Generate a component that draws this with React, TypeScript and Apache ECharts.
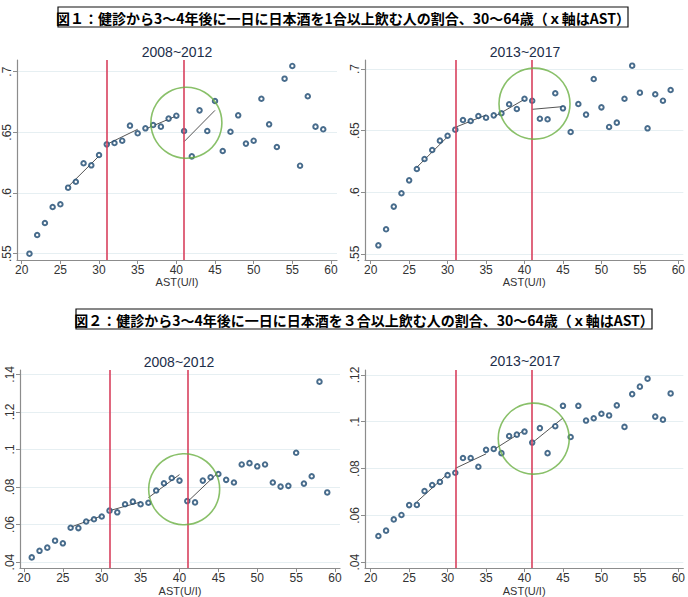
import React, { useEffect, useRef } from "react";
import * as echarts from "echarts";

// AST (U/I) bins on the x axis
const ast = [
  21, 22, 23, 24, 25, 26, 27, 28, 29, 30, 31, 32, 33, 34, 35, 36, 37, 38, 39, 40,
  41, 42, 43, 44, 45, 46, 47, 48, 49, 50, 51, 52, 53, 54, 55, 56, 57, 58, 59,
];

// 図1: 1合以上
const sake1Early = [
  0.55, 0.5654, 0.5753, 0.5885, 0.5907, 0.6044, 0.6093, 0.6245, 0.6228, 0.6313,
  0.6401, 0.6412, 0.6431, 0.6555, 0.6492, 0.6533, 0.656, 0.6547, 0.6613, 0.6637,
  0.6511, 0.6302, 0.6681, 0.6511, 0.6758, 0.6346, 0.6505, 0.664, 0.6407, 0.6431,
  0.6777, 0.6566, 0.6379, 0.6942, 0.7047, 0.6225, 0.6797, 0.6547, 0.6525,
];
const sake1Late = [
  0.557, 0.57, 0.5884, 0.5992, 0.6097, 0.6189, 0.627, 0.6343, 0.6419, 0.6459,
  0.6508, 0.6586, 0.6578, 0.6619, 0.6605, 0.6624, 0.6641, 0.6714, 0.6676, 0.6759,
  0.6743, 0.6597, 0.6592, 0.6803, 0.6681, 0.6489, 0.6716, 0.663, 0.6919, 0.6689,
  0.653, 0.6565, 0.6759, 0.7027, 0.6808, 0.6519, 0.6795, 0.6743, 0.683,
];

// 図2: 3合以上
const sake3Early = [
  0.0425, 0.046, 0.0477, 0.0514, 0.05, 0.0583, 0.0581, 0.0616, 0.0628, 0.0643,
  0.0674, 0.0665, 0.0708, 0.0722, 0.0708, 0.0716, 0.0781, 0.082, 0.0848, 0.0834,
  0.0725, 0.0718, 0.0834, 0.0852, 0.0869, 0.0838, 0.0824, 0.092, 0.0927, 0.091,
  0.092, 0.0824, 0.0802, 0.0806, 0.0982, 0.0818, 0.0857, 0.1361, 0.0771,
];
const sake3Late = [
  0.0512, 0.0535, 0.0583, 0.0602, 0.0644, 0.0645, 0.0704, 0.073, 0.0743, 0.0772,
  0.0782, 0.0845, 0.0845, 0.0808, 0.088, 0.0884, 0.0866, 0.0939, 0.0945, 0.0958,
  0.0911, 0.0973, 0.0866, 0.0981, 0.1068, 0.0935, 0.1068, 0.1005, 0.1015, 0.1034,
  0.1027, 0.107, 0.0978, 0.1118, 0.115, 0.1184, 0.1022, 0.1009, 0.1121,
];

// fitted line pieces: [value at start, value at end]
const segStart = [26, 31, 36, 41];
const segEnd = [30, 35, 40, 45];
const fit1Early = [[0.6052, 0.6305], [0.6401, 0.6525], [0.6527, 0.6635], [0.6423, 0.6681]];
const fit1Late = [[0.6203, 0.6451], [0.6527, 0.6627], [0.6611, 0.6754], [0.6673, 0.6695]];
const fit3Early = [[0.0586, 0.0646], [0.0674, 0.072], [0.0743, 0.0866], [0.072, 0.0878]];
const fit3Late = [[0.0658, 0.0777], [0.0801, 0.0863], [0.0881, 0.0964], [0.091, 0.1016]];

const cutoffs = [31, 41];
const circle1Early = [41.3, 0.6579];
const circle1Late = [41.3, 0.6719];
const circle3Early = [40.6, 0.0788];
const circle3Late = [41.2, 0.0928];

const xTicks = [20, 25, 30, 35, 40, 45, 50, 55, 60];
const yTicksFig1 = [0.55, 0.6, 0.65, 0.7];
const yTicksFig2Early = [0.04, 0.06, 0.08, 0.1, 0.12, 0.14];
const yTicksFig2Late = [0.04, 0.06, 0.08, 0.1, 0.12];

const fig1Title = "図１：健診から3～4年後に一日に日本酒を1合以上飲む人の割合、30～64歳（ｘ軸はAST）";
const fig2Title = "図２：健診から3～4年後に一日に日本酒を３合以上飲む人の割合、30～64歳（ｘ軸はAST）";

const panels = [
  {
    title: "2008~2012", values: sake1Early, fits: fit1Early, circle: circle1Early, yTicks: yTicksFig1,
    grid: { left: 17, top: 60, width: 320, height: 200 }, x: [19.39, 60.78], y: [0.5448, 0.7096], tx: 177, ty: 52,
  },
  {
    title: "2013~2017", values: sake1Late, fits: fit1Late, circle: circle1Late, yTicks: yTicksFig1,
    grid: { left: 365, top: 60, width: 320, height: 200 }, x: [19.26, 60.65], y: [0.5451, 0.7073], tx: 525, ty: 52,
  },
  {
    title: "2008~2012", values: sake3Early, fits: fit3Early, circle: circle3Early, yTicks: yTicksFig2Early,
    grid: { left: 20, top: 370, width: 320, height: 200 }, x: [19.49, 60.64], y: [0.0368, 0.1423], tx: 179, ty: 362,
  },
  {
    title: "2013~2017", values: sake3Late, fits: fit3Late, circle: circle3Late, yTicks: yTicksFig2Late,
    grid: { left: 365, top: 370, width: 320, height: 199 }, x: [19.26, 60.65], y: [0.0375, 0.1221], tx: 525, ty: 361,
  },
];

const axisGray = "#8c8c8c";
const font = "Liberation Sans";

const App = () => {
  const chart = useRef<HTMLDivElement>(null);

  useEffect(() => {
    document.body.style.margin = "0";
    if (!chart.current) return;
    const myChart = echarts.init(chart.current, null, { renderer: "svg" });

    const series: any[] = [];
    panels.forEach((p, i) => {
      series.push({
        type: "scatter",
        xAxisIndex: i,
        yAxisIndex: i,
        data: ast.map((x, j) => [x, p.values[j]]),
        symbol: "emptyCircle",
        symbolSize: 4.5,
        itemStyle: { color: "#1a476f", borderWidth: 1.1 },
        z: 4,
        markLine: {
          silent: true,
          symbol: ["none", "none"],
          label: { show: false },
          lineStyle: { color: "#d8405e", width: 1.6, type: "solid" },
          data: cutoffs.map((c) => ({ xAxis: c })),
        },
      });
      p.fits.forEach((f, k) => {
        series.push({
          type: "line",
          xAxisIndex: i,
          yAxisIndex: i,
          data: [
            [segStart[k], f[0]],
            [segEnd[k], f[1]],
          ],
          showSymbol: false,
          lineStyle: { color: "#555", width: 1 },
          z: 3,
        });
      });
      series.push({
        type: "scatter",
        xAxisIndex: i,
        yAxisIndex: i,
        data: [p.circle],
        symbol: "circle",
        symbolSize: 71,
        silent: true,
        itemStyle: { color: "rgba(0,0,0,0)", borderColor: "#6cb044", borderWidth: 1.6 },
        z: 5,
      });
    });

    const option = {
      animation: false,
      backgroundColor: "#fff",
      grid: panels.map((p) => p.grid),
      xAxis: panels.map((p, i) => ({
        type: "value",
        gridIndex: i,
        min: p.x[0],
        max: p.x[1],
        name: "AST(U/I)",
        nameLocation: "middle",
        nameGap: 16,
        nameTextStyle: { color: "#333", fontSize: 11, fontFamily: font },
        axisLine: { onZero: false, lineStyle: { color: axisGray, width: 1.2 } },
        axisTick: { customValues: xTicks, length: 4, lineStyle: { color: axisGray } },
        axisLabel: { customValues: xTicks, color: "#333", fontSize: 12, fontFamily: font, margin: 4 },
        splitLine: { show: false },
      })),
      yAxis: panels.map((p, i) => ({
        type: "value",
        gridIndex: i,
        min: p.y[0],
        max: p.y[1],
        axisLine: { show: true, onZero: false, lineStyle: { color: axisGray, width: 1.2 } },
        axisTick: { show: true, customValues: p.yTicks, length: 4, lineStyle: { color: axisGray } },
        axisLabel: {
          customValues: p.yTicks,
          rotate: 90,
          color: "#333",
          fontSize: 12,
          fontFamily: font,
          margin: 4,
          formatter: (v: number) => String(v).replace(/^0/, ""),
        },
        splitLine: { show: true, lineStyle: { color: "#e6eff2", width: 1 } },
      })),
      graphic: [
        {
          type: "rect",
          shape: { x: 58, y: 7, width: 570, height: 20 },
          style: { fill: "#fff", stroke: "#111", lineWidth: 1.2 },
        },
        {
          type: "text",
          style: {
            text: fig1Title, x: 343, y: 17.5, textAlign: "center", textVerticalAlign: "middle",
            font: 'bold 14px "Noto Sans CJK JP"', fill: "#000",
          },
        },
        {
          type: "rect",
          shape: { x: 76, y: 309, width: 576, height: 20 },
          style: { fill: "#fff", stroke: "#111", lineWidth: 1.2 },
        },
        {
          type: "text",
          style: {
            text: fig2Title, x: 364, y: 319.5, textAlign: "center", textVerticalAlign: "middle",
            font: 'bold 14px "Noto Sans CJK JP"', fill: "#000",
          },
        },
        ...panels.map((p) => ({
          type: "text",
          style: {
            text: p.title, x: p.tx, y: p.ty, textAlign: "center", textVerticalAlign: "middle",
            font: '14px "Liberation Sans"', fill: "#1c2e4a",
          },
        })),
      ],
      series,
    };
    myChart.setOption(option as any);
    return () => {
      myChart.dispose();
    };
  }, []);

  return <div ref={chart} style={{ width: 688, height: 597 }}></div>;
};

export default App;
